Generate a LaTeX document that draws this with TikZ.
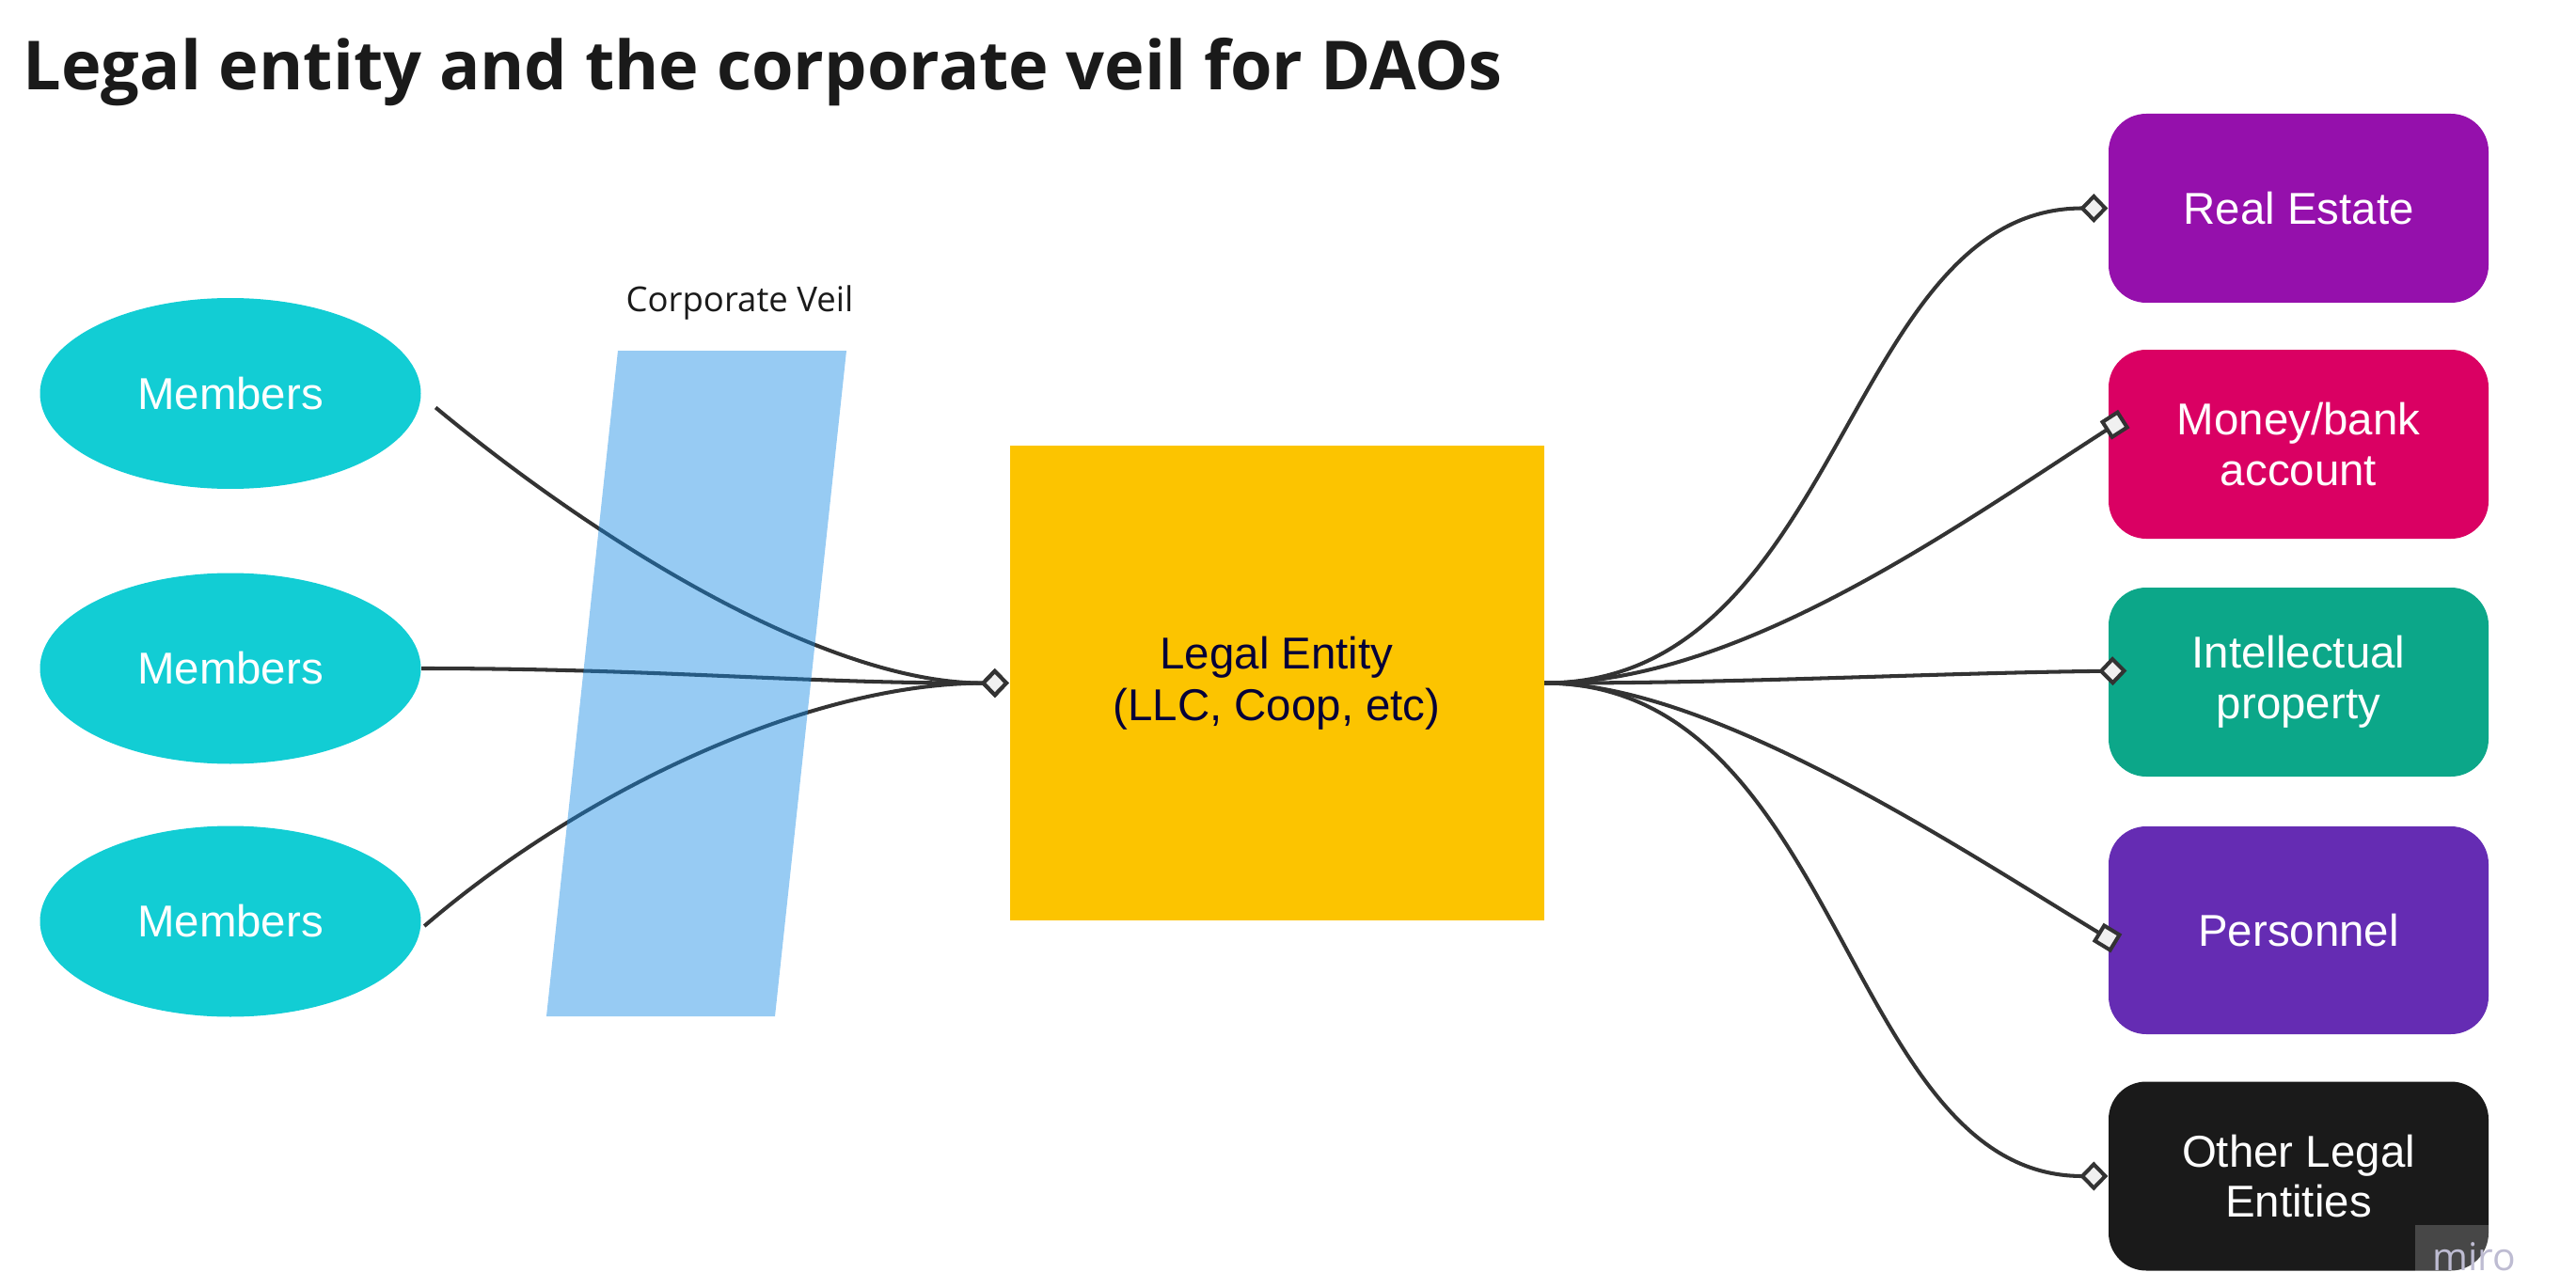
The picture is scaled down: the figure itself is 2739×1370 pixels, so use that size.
\documentclass[tikz,border=0pt]{standalone}
\usepackage{fontspec}
\setmainfont{Liberation Sans}
\newfontfamily\headfont{Open Sans}
\usepackage{tikz}
\usetikzlibrary{arrows.meta,shapes.geometric}
\definecolor{membercyan}{RGB}{18,205,212}
\definecolor{entityyellow}{RGB}{252,196,0}
\definecolor{entitytext}{RGB}{5,0,56}
\definecolor{estatepurple}{RGB}{149,16,172}
\definecolor{moneypink}{RGB}{218,0,99}
\definecolor{iptgreen}{RGB}{12,167,137}
\definecolor{staffviolet}{RGB}{101,44,179}
\definecolor{otherblack}{RGB}{26,26,26}
\definecolor{veilblue}{RGB}{24,139,228}
\definecolor{linegray}{RGB}{51,51,51}
\definecolor{markerfill}{RGB}{240,240,240}
\definecolor{mirogray}{RGB}{190,188,210}
\tikzstyle{Title}=[anchor=base west, inner sep=0pt, text=otherblack, font=\headfont\bfseries\fontsize{20.5}{24}\selectfont]
\tikzstyle{VeilLabel}=[anchor=base, inner sep=0pt, text=otherblack, font=\headfont\fontsize{10.4}{12}\selectfont]
\tikzstyle{Member}=[shape=ellipse, minimum width=40.5mm, minimum height=20.3mm, inner sep=0pt, fill=membercyan, text=white, font=\fontsize{13.5}{15.5}\selectfont]
\tikzstyle{Entity}=[shape=rectangle, minimum width=56.8mm, minimum height=50.5mm, inner sep=0pt, fill=entityyellow, text=entitytext, align=center, font=\fontsize{13.5}{15.6}\selectfont]
\tikzstyle{Asset}=[shape=rectangle, rounded corners=4mm, minimum width=40.4mm, minimum height=20.1mm, inner sep=0pt, text=white, align=center, font=\fontsize{13.5}{15.3}\selectfont]
\tikzstyle{arrow}=[line width=1.15pt, draw=linegray]
\tikzstyle{diamondtip}=[-{Diamond[fill=markerfill, length=3mm, width=3.1mm]}]
\tikzstyle{squaretip}=[-{Square[fill=markerfill, length=2.3mm, width=2.3mm]}]
\tikzstyle{Veil}=[fill=veilblue, fill opacity=0.45]
\pgfdeclarelayer{nodelayer}
\pgfdeclarelayer{edgelayer}
\pgfsetlayers{nodelayer, edgelayer, main}
\begin{document}
\begin{tikzpicture}[x=0.1mm, y=-0.1mm]
	\useasboundingbox (0,0) rectangle (2739,1370);
	\begin{pgfonlayer}{nodelayer}
		\node [style=Member] (m1) at (245, 418.5) {Members};
		\node [style=Member] (m2) at (245, 711) {Members};
		\node [style=Member] (m3) at (245, 980) {Members};
		\node [style=Entity] (entity) at (1357.5, 726.5) {Legal Entity\\(LLC, Coop, etc)};
		\node [style=Asset, fill=estatepurple] (estate) at (2444, 221.5) {Real Estate};
		\node [style=Asset, fill=moneypink] (money) at (2444, 472.5) {Money/bank\\account};
		\node [style=Asset, fill=iptgreen] (ip) at (2444, 725.5) {Intellectual\\property};
		\node [style=Asset, fill=staffviolet, minimum height=22.1mm] (staff) at (2444, 989.5) {Personnel};
		\node [style=Asset, fill=otherblack] (others) at (2444, 1251) {Other Legal\\Entities};
	\end{pgfonlayer}
	\begin{pgfonlayer}{edgelayer}
		% members through the veil
		\draw [style=arrow, style=diamondtip] ([shift={(15,15)}]m1.east) .. controls (640,580) and (880,727) .. (entity.west);
		\draw [style=arrow, style=diamondtip] (m2.east) .. controls (700,711) and (850,727) .. (entity.west);
		\draw [style=arrow, style=diamondtip] ([shift={(3,5)}]m3.east) .. controls (620,840) and (860,727) .. (entity.west);

		% assets of the entity
		\draw [style=arrow, style=diamondtip] (entity.east) .. controls (1960,727) and (1960,221.5) .. (estate.west);
		\draw [style=arrow, style=squaretip] (entity.east) .. controls (1850,727) and (2080,560) .. ([shift={(17,-27)}]money.west);
		\draw [style=arrow, style=diamondtip] (entity.east) .. controls (1850,727) and (2050,716) .. ([shift={(20,-12)}]ip.west);
		\draw [style=arrow, style=squaretip] (entity.east) .. controls (1820,727) and (2080,900) .. ([shift={(9,14)}]staff.west);
		\draw [style=arrow, style=diamondtip] (entity.east) .. controls (1960,727) and (1960,1251) .. (others.west);
	\end{pgfonlayer}
	\fill [style=Veil] (657,373) -- (900,373) -- (824,1081) -- (581,1081) -- cycle;
	\node [style=VeilLabel] (veil) at (786.5, 332) {Corporate Veil};
	\node [style=Title] (title) at (24, 96) {Legal entity and the corporate veil for DAOs};

	% watermark
	\fill [white, fill opacity=0.2] (2568,1303) rectangle (2739,1370);
	\node [anchor=base, inner sep=0pt, text=mirogray, font=\headfont\fontsize{11.6}{12}\selectfont] (miro) at (2631, 1351) {miro};
\end{tikzpicture}
\end{document}
